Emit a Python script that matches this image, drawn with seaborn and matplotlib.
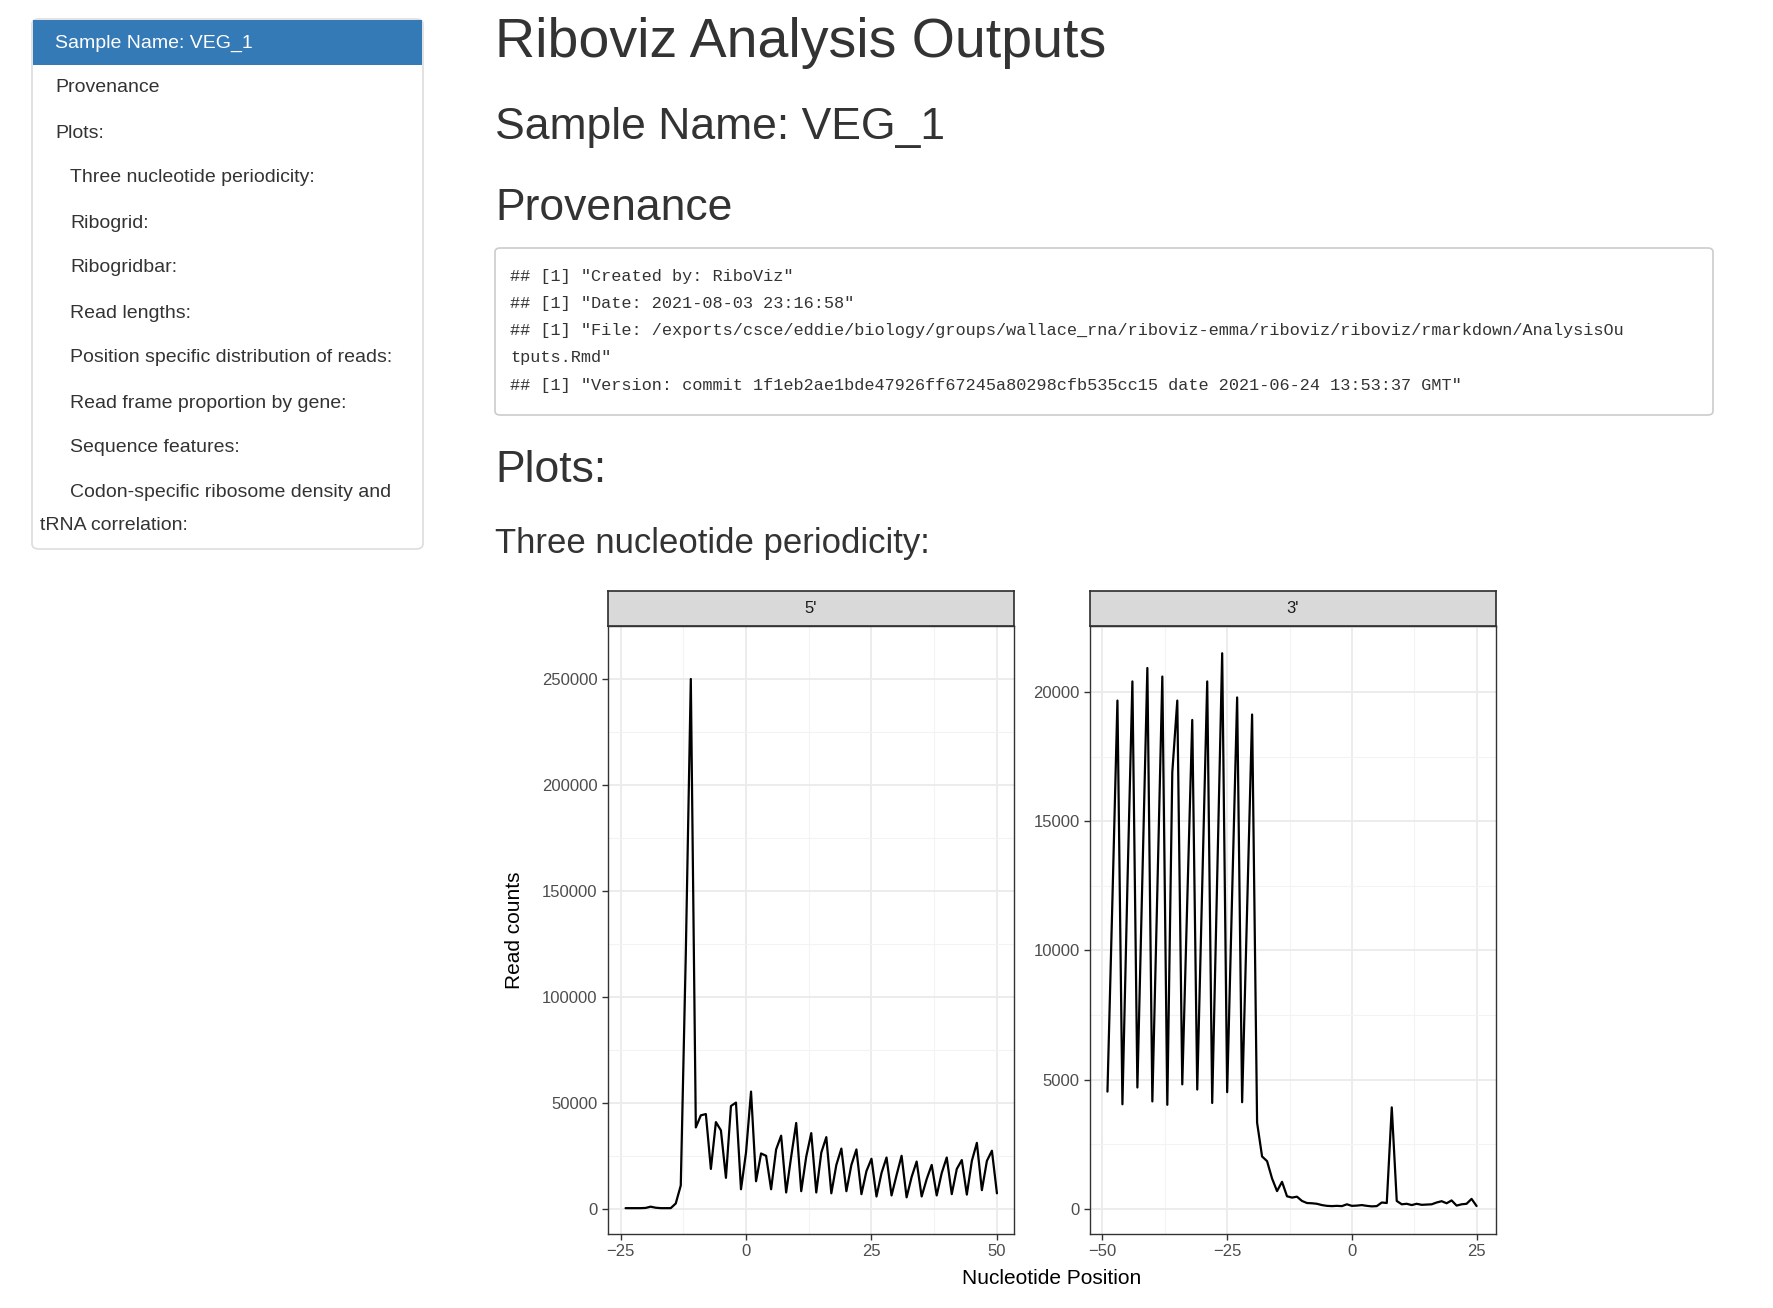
import numpy as np
import pandas as pd
import seaborn as sns
import matplotlib.pyplot as plt
from matplotlib.patches import FancyBboxPatch, Rectangle

# ---- data ----
pos_5 = list(range(-24, 51))
counts_5 = [300, 300, 300, 300, 400, 1000, 500, 300, 300, 300, 2500,
            11000, 120000, 250000, 38400, 44100, 44700, 18800, 40900, 37000,
            14600, 48500, 50100, 9200, 26500, 55300, 13000, 26100, 25000,
            9200, 28000, 34500, 7700, 24600, 40500, 8300, 24600, 35700,
            7700, 26500, 33800, 7300, 20700, 28400, 8300, 20700, 28000,
            6900, 17800, 23600, 5800, 16900, 24200, 6300, 15900, 25000,
            5400, 15000, 22300, 5800, 14000, 20700, 6300, 16900, 24200,
            6900, 18800, 23000, 6700, 22600, 31100, 8800, 22600, 27400, 7300]

pos_3 = list(range(-49, 26))
counts_3 = [4540, 12000, 19670, 4050, 12500, 20410, 4700, 12800, 20930,
            4160, 12300, 20600, 4030, 16900, 19670, 4820, 11900, 18920,
            4620, 12500, 20410, 4100, 12800, 21500, 4520, 12200, 19790,
            4130, 11600, 19130, 3340, 2030, 1850, 1180, 690, 1050, 490,
            440, 475, 310, 230, 220, 200, 150, 120, 110, 120, 110, 180,
            120, 130, 150, 120, 100, 110, 250, 230, 3930, 310, 180, 200,
            150, 200, 160, 170, 180, 250, 300, 220, 330, 130, 180, 200,
            390, 115]

sidebar_items = ["Provenance", "Plots:", "Three nucleotide periodicity:",
                 "Ribogrid:", "Ribogridbar:", "Read lengths:",
                 "Position specific distribution of reads:",
                 "Read frame proportion by gene:", "Sequence features:",
                 "Codon-specific ribosome density and"]
code_lines = [
    '## [1] "Created by: RiboViz"',
    '## [1] "Date: 2021-08-03 23:16:58"',
    '## [1] "File: /exports/csce/eddie/biology/groups/wallace_rna/riboviz-emma/riboviz/riboviz/rmarkdown/AnalysisOu',
    'tputs.Rmd"',
    '## [1] "Version: commit 1f1eb2ae1bde47926ff67245a80298cfb535cc15 date 2021-06-24 13:53:37 GMT"',
]

df = pd.concat([pd.DataFrame({"Pos": pos_5, "Counts": counts_5, "End": "5'"}),
                pd.DataFrame({"Pos": pos_3, "Counts": counts_3, "End": "3'"})])

sns.set_theme(style="white")
plt.rcParams['font.family'] = ['Liberation Sans', 'DejaVu Sans']

W, H = 1774, 1308
fig = plt.figure(figsize=(W / 100, H / 100), dpi=100)


def fx(x):
    return x / W


def fy(y):
    return 1 - y / H


# ---- sidebar ----
fig.patches.append(FancyBboxPatch((fx(32), fy(549)), fx(391), fy(19) - fy(549),
                                  boxstyle="round,pad=0,rounding_size=0.004",
                                  transform=fig.transFigure, fc="white",
                                  ec="#dddddd", lw=1.2))
fig.patches.append(Rectangle((fx(33), fy(65)), fx(389), fy(20) - fy(65),
                             transform=fig.transFigure, fc="#337ab7", ec="none"))
fig.text(fx(55), fy(43), "Sample Name: VEG_1", color="white", fontsize=14, va="center")
for i, item in enumerate(sidebar_items):
    x = 55 if i < 2 else 70
    fig.text(fx(x), fy(88 + 45 * i), item, color="#333333", fontsize=14, va="center")
fig.text(fx(40), fy(525), "tRNA correlation:", color="#333333", fontsize=14, va="center")

# ---- headings ----
fig.text(fx(495), fy(43), "Riboviz Analysis Outputs", fontsize=40, color="#333333", va="center")
fig.text(fx(495), fy(128), "Sample Name: VEG_1", fontsize=32, color="#333333", va="center")
fig.text(fx(495), fy(208), "Provenance", fontsize=32, color="#333333", va="center")
fig.text(fx(495), fy(470), "Plots:", fontsize=32, color="#333333", va="center")
fig.text(fx(495), fy(544), "Three nucleotide periodicity:", fontsize=25, color="#333333", va="center")

fig.patches.append(FancyBboxPatch((fx(495), fy(415)), fx(1218), fy(248) - fy(415),
                                  boxstyle="round,pad=0,rounding_size=0.003",
                                  transform=fig.transFigure, fc="white",
                                  ec="#cccccc", lw=1.2))
for i, line in enumerate(code_lines):
    fig.text(fx(510), fy(276 + 27.3 * i), line, fontsize=12.2, color="#333333",
             va="center", family="Liberation Mono")

# ---- plots ----
panels = [("5'", 608, (-27.5, 53.4), (-11900, 263400), [-25, 0, 25, 50],
           [0, 50000, 100000, 150000, 200000, 250000]),
          ("3'", 1090, (-52.5, 28.9), (-969, 22555), [-50, -25, 0, 25],
           [0, 5000, 10000, 15000, 20000])]
for name, left, xl, yl, xt, yt in panels:
    ax = fig.add_axes([fx(left), fy(1234), fx(406), fy(626) - fy(1234)])
    sns.lineplot(data=df[df.End == name], x="Pos", y="Counts", color="black",
                 lw=1.6, ax=ax)
    ax.set_xlim(xl)
    ax.set_ylim(yl)
    ax.set_xticks(xt)
    ax.set_yticks(yt)
    ax.set_xticks([(a + b) / 2 for a, b in zip(xt[:-1], xt[1:])]
                  + [xt[0] - 12.5, xt[-1] + 12.5][1:0] , minor=True)
    ax.set_yticks([(a + b) / 2 for a, b in zip(yt[:-1], yt[1:])] + [yt[-1] + (yt[1] - yt[0]) / 2], minor=True)
    ax.grid(which="major", color="#ebebeb", lw=1.3)
    ax.grid(which="minor", color="#f3f3f3", lw=0.8)
    ax.tick_params(which="major", length=4, width=1, color="#333333", labelsize=12,
                   labelcolor="#4d4d4d", left=True, bottom=True)
    ax.tick_params(which="minor", length=0)
    for s in ax.spines.values():
        s.set_color("#333333")
        s.set_linewidth(1)
    ax.set_xlabel("")
    ax.set_ylabel("")
    ax.yaxis.set_major_formatter(plt.FuncFormatter(lambda v, p: f"{int(v)}"))
    strip = fig.add_axes([fx(left), fy(626), fx(406), fy(591) - fy(626)])
    strip.set_facecolor("#d9d9d9")
    strip.set_xticks([])
    strip.set_yticks([])
    for s in strip.spines.values():
        s.set_color("#333333")
    strip.text(0.5, 0.5, name, ha="center", va="center", fontsize=12,
               color="#1a1a1a", transform=strip.transAxes)

fig.text(fx(514), fy(930), "Read counts", rotation=90, fontsize=15, ha="center",
         va="center", color="black")
fig.text(fx(1052), fy(1278), "Nucleotide Position", fontsize=15, ha="center",
         va="center", color="black")

fig.savefig("out.png", dpi=100, facecolor="white")
